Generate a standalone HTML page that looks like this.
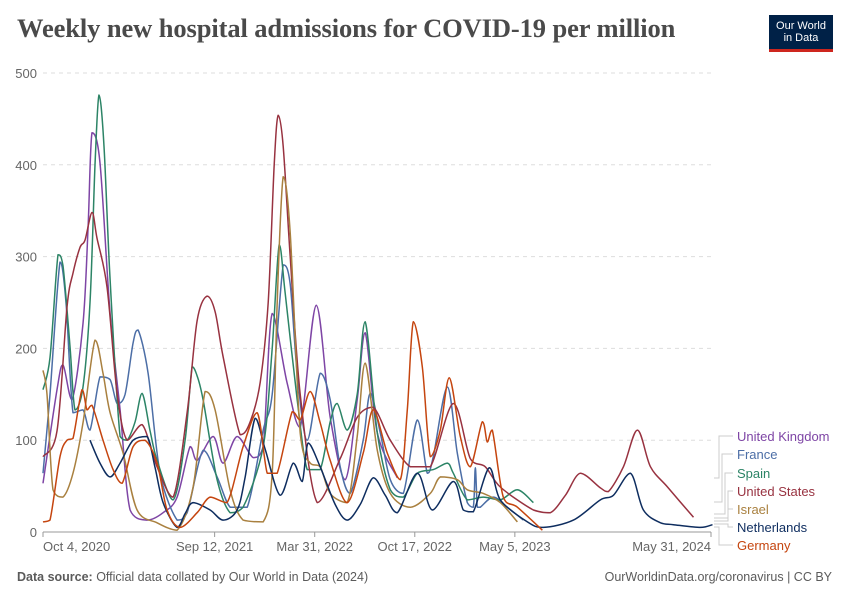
<!DOCTYPE html>
<html><head><meta charset="utf-8">
<style>
body{margin:0;background:#fff;font-family:"Liberation Sans",sans-serif;}
#wrap{position:relative;width:850px;height:600px;overflow:hidden;}
h1{position:absolute;left:17px;top:13px;margin:0;font-family:"Liberation Serif",serif;font-weight:bold;font-size:26.5px;color:#4a4a4a;letter-spacing:-0.1px;}
#logo{position:absolute;left:769px;top:15px;width:64px;height:37px;background:#002147;color:#fff;font-size:11px;line-height:12px;text-align:center;box-sizing:border-box;padding-top:5px;border-bottom:3px solid #ce261e;}
.foot{position:absolute;top:570px;font-size:12.5px;color:#5b5b5b;}
</style></head>
<body><div id="wrap">
<h1>Weekly new hospital admissions for COVID-19 per million</h1>
<div id="logo">Our World<br>in Data</div>
<svg id="chart" width="850" height="600" style="position:absolute;left:0;top:0"></svg>
<div class="foot" style="left:17px"><b>Data source:</b> Official data collated by Our World in Data (2024)</div>
<div class="foot" style="right:18px">OurWorldinData.org/coronavirus | CC BY</div>
</div>
<script>
// x values: days since Oct 4, 2020
const yTicks=[0,100,200,300,400,500];
const xTickLabels=["Oct 4, 2020","Sep 12, 2021","Mar 31, 2022","Oct 17, 2022","May 5, 2023","May 31, 2024"];
const xTickDays=[0,343,543,743,943,1335];
const ukDays=[0,28,40,58,80,90,98,114,134,154,174,208,240,268,294,308,340,360,388,420,440,458,488,514,546,574,604,628,644,668,708];
const ukVals=[53,155,182,144,227,330,435,402,238,133,24,13,21,38,93,78,104,75,104,81,93,238,162,114,247,125,57,144,217,108,59];
const frDays=[0,14,34,46,60,80,94,114,134,148,164,180,190,210,234,268,288,320,348,374,408,440,458,480,494,508,528,554,574,594,614,640,654,674,694,720,748,768,780,808,828,848,860,864,868,874,900,928,960];
const frVals=[64,150,294,250,130,133,111,169,166,140,150,206,220,173,64,13,21,89,60,27,27,111,150,291,270,173,100,173,144,71,42,100,151,108,57,42,122,64,82,158,86,32,27,70,27,27,38,27,13];
const esDays=[0,14,30,40,54,64,80,94,104,112,122,134,154,168,184,198,214,228,260,284,298,308,320,348,374,400,440,458,472,484,508,528,554,574,588,608,628,644,668,694,720,748,780,808,820,848,880,914,948,980];
const esVals=[155,190,302,290,202,133,158,250,400,476,420,275,104,100,120,151,110,78,35,100,180,170,144,57,21,27,93,200,313,260,144,68,68,120,140,111,150,229,108,46,38,64,68,75,64,35,38,35,46,32];
const usDays=[0,28,48,60,74,84,98,108,128,148,168,198,228,260,288,308,328,344,360,394,414,434,450,462,470,480,494,514,548,594,628,660,694,734,774,820,854,884,914,980,1014,1044,1074,1114,1130,1160,1188,1214,1248,1300];
const usVals=[82,110,245,282,310,318,348,320,267,151,100,117,71,38,130,230,257,240,191,106,120,163,250,400,454,420,300,150,32,80,125,136,100,71,71,140,80,71,49,24,21,40,64,48,44,71,111,71,49,16];
const ilDays=[0,8,20,40,60,80,104,120,134,160,188,228,268,300,324,344,374,400,440,458,468,480,494,514,534,554,574,608,628,644,668,694,734,774,794,828,848,880,914,948];
const ilVals=[176,150,46,38,64,119,209,173,130,86,24,10,2,49,153,133,46,13,11,64,250,387,326,108,75,71,42,32,104,184,89,42,27,42,60,57,46,42,32,11];
const nlDays=[94,114,134,154,180,208,224,240,268,284,300,334,360,388,404,424,444,474,500,518,530,554,584,608,634,660,684,708,748,778,820,840,860,892,914,968,1000,1060,1114,1140,1174,1200,1234,1260,1314,1338];
const nlVals=[100,75,60,75,100,104,70,32,5,20,32,24,13,24,60,124,90,40,75,55,97,71,30,13,30,59,40,21,64,24,55,24,22,70,35,11,5,13,35,40,64,24,10,8,5,8];
const deDays=[0,14,34,48,60,78,88,98,120,140,158,180,204,228,248,274,308,334,368,400,428,448,468,498,514,534,554,574,608,640,660,688,714,728,740,758,774,794,812,834,854,878,888,898,920,948,998];
const deVals=[11,13,82,100,102,155,133,138,100,68,53,93,100,75,24,5,21,38,32,93,130,64,64,131,122,153,119,78,32,86,133,86,57,133,229,180,82,111,168,104,71,120,98,111,38,27,2];

const NS="http://www.w3.org/2000/svg";
const svg=document.getElementById('chart');
const X0=43,X1=711,Y0=532,Y1=73;
function xs(d){return X0+(X1-X0)*d/1335;}
function ys(v){return Y0-(Y0-Y1)*v/500;}
function mk(t,a){const e=document.createElementNS(NS,t);for(const k in a)e.setAttribute(k,a[k]);svg.appendChild(e);return e;}
function smooth(P){
  let d='M'+P[0][0].toFixed(1)+','+P[0][1].toFixed(1);
  const k=0.16;
  for(let i=0;i<P.length-1;i++){
    const p0=P[i-1]||P[i],p1=P[i],p2=P[i+1],p3=P[i+2]||P[i+1];
    let c1y=p1[1]+(p2[1]-p0[1])*k, c2y=p2[1]-(p3[1]-p1[1])*k;
    const lo=Math.min(p1[1],p2[1]),hi=Math.max(p1[1],p2[1]);
    c1y=Math.max(lo,Math.min(hi,c1y)); c2y=Math.max(lo,Math.min(hi,c2y));
    const c1x=p1[0]+(p2[0]-p0[0])*k, c2x=p2[0]-(p3[0]-p1[0])*k;
    d+=` C${c1x.toFixed(1)},${c1y.toFixed(1)} ${c2x.toFixed(1)},${c2y.toFixed(1)} ${p2[0].toFixed(1)},${p2[1].toFixed(1)}`;
  }
  return d;
}
yTicks.forEach(v=>{
  if(v>0){const g=mk('line',{x1:X0,x2:X1,y1:ys(v),y2:ys(v),stroke:'#ddd','stroke-dasharray':'4,4'});
  
  }
  const t=mk('text',{x:37,y:ys(v)+5,'text-anchor':'end','font-size':'13',fill:'#666','font-family':'Liberation Sans, sans-serif'});
  t.textContent=v;
  
  
});
const ax=mk('line',{x1:X0,x2:X1,y1:Y0,y2:Y0,stroke:'#999'});


xTickDays.forEach((d,i)=>{
  const tk=mk('line',{x1:xs(d),x2:xs(d),y1:Y0,y2:Y0+5,stroke:'#999'});
  
  
  const anchor=i==0?'start':(i==xTickDays.length-1?'end':'middle');
  const t=mk('text',{x:xs(d),y:551,'text-anchor':anchor,'font-size':'13',fill:'#666','font-family':'Liberation Sans, sans-serif'});
  t.textContent=xTickLabels[i];
  
  
});
const series=[
 ['United Kingdom',ukDays,ukVals,'#7e45a5',436,478],
 ['France',frDays,frVals,'#4c6ea6',454,502],
 ['Spain',esDays,esVals,'#2c8466',473,514],
 ['United States',usDays,usVals,'#983240',491,518],
 ['Israel',ilDays,ilVals,'#a9803f',509,521],
 ['Netherlands',nlDays,nlVals,'#0e2d5f',527,524],
 ['Germany',deDays,deVals,'#c5450f',545,527]];
series.forEach((s,i)=>{
  const P=s[1].map((d,j)=>[xs(d),ys(s[2][j])]);
  const p=mk('path',{d:smooth(P),fill:'none',stroke:s[3],'stroke-width':'1.5','stroke-linejoin':'round'});
  
  
  const ey=s[5], bx=[719,722,725,728,728,728,719][i];
  const c=mk('polyline',{points:`${X1+3},${ey} ${bx},${ey} ${bx},${s[4]} ${733},${s[4]}`,fill:'none',stroke:'#ccc','stroke-width':'1'});
  
  
  const t=mk('text',{x:737,y:s[4]+5,'font-size':'13',fill:s[3],'font-family':'Liberation Sans, sans-serif'});
  t.textContent=s[0];
  
  
});
</script>
</body></html>
